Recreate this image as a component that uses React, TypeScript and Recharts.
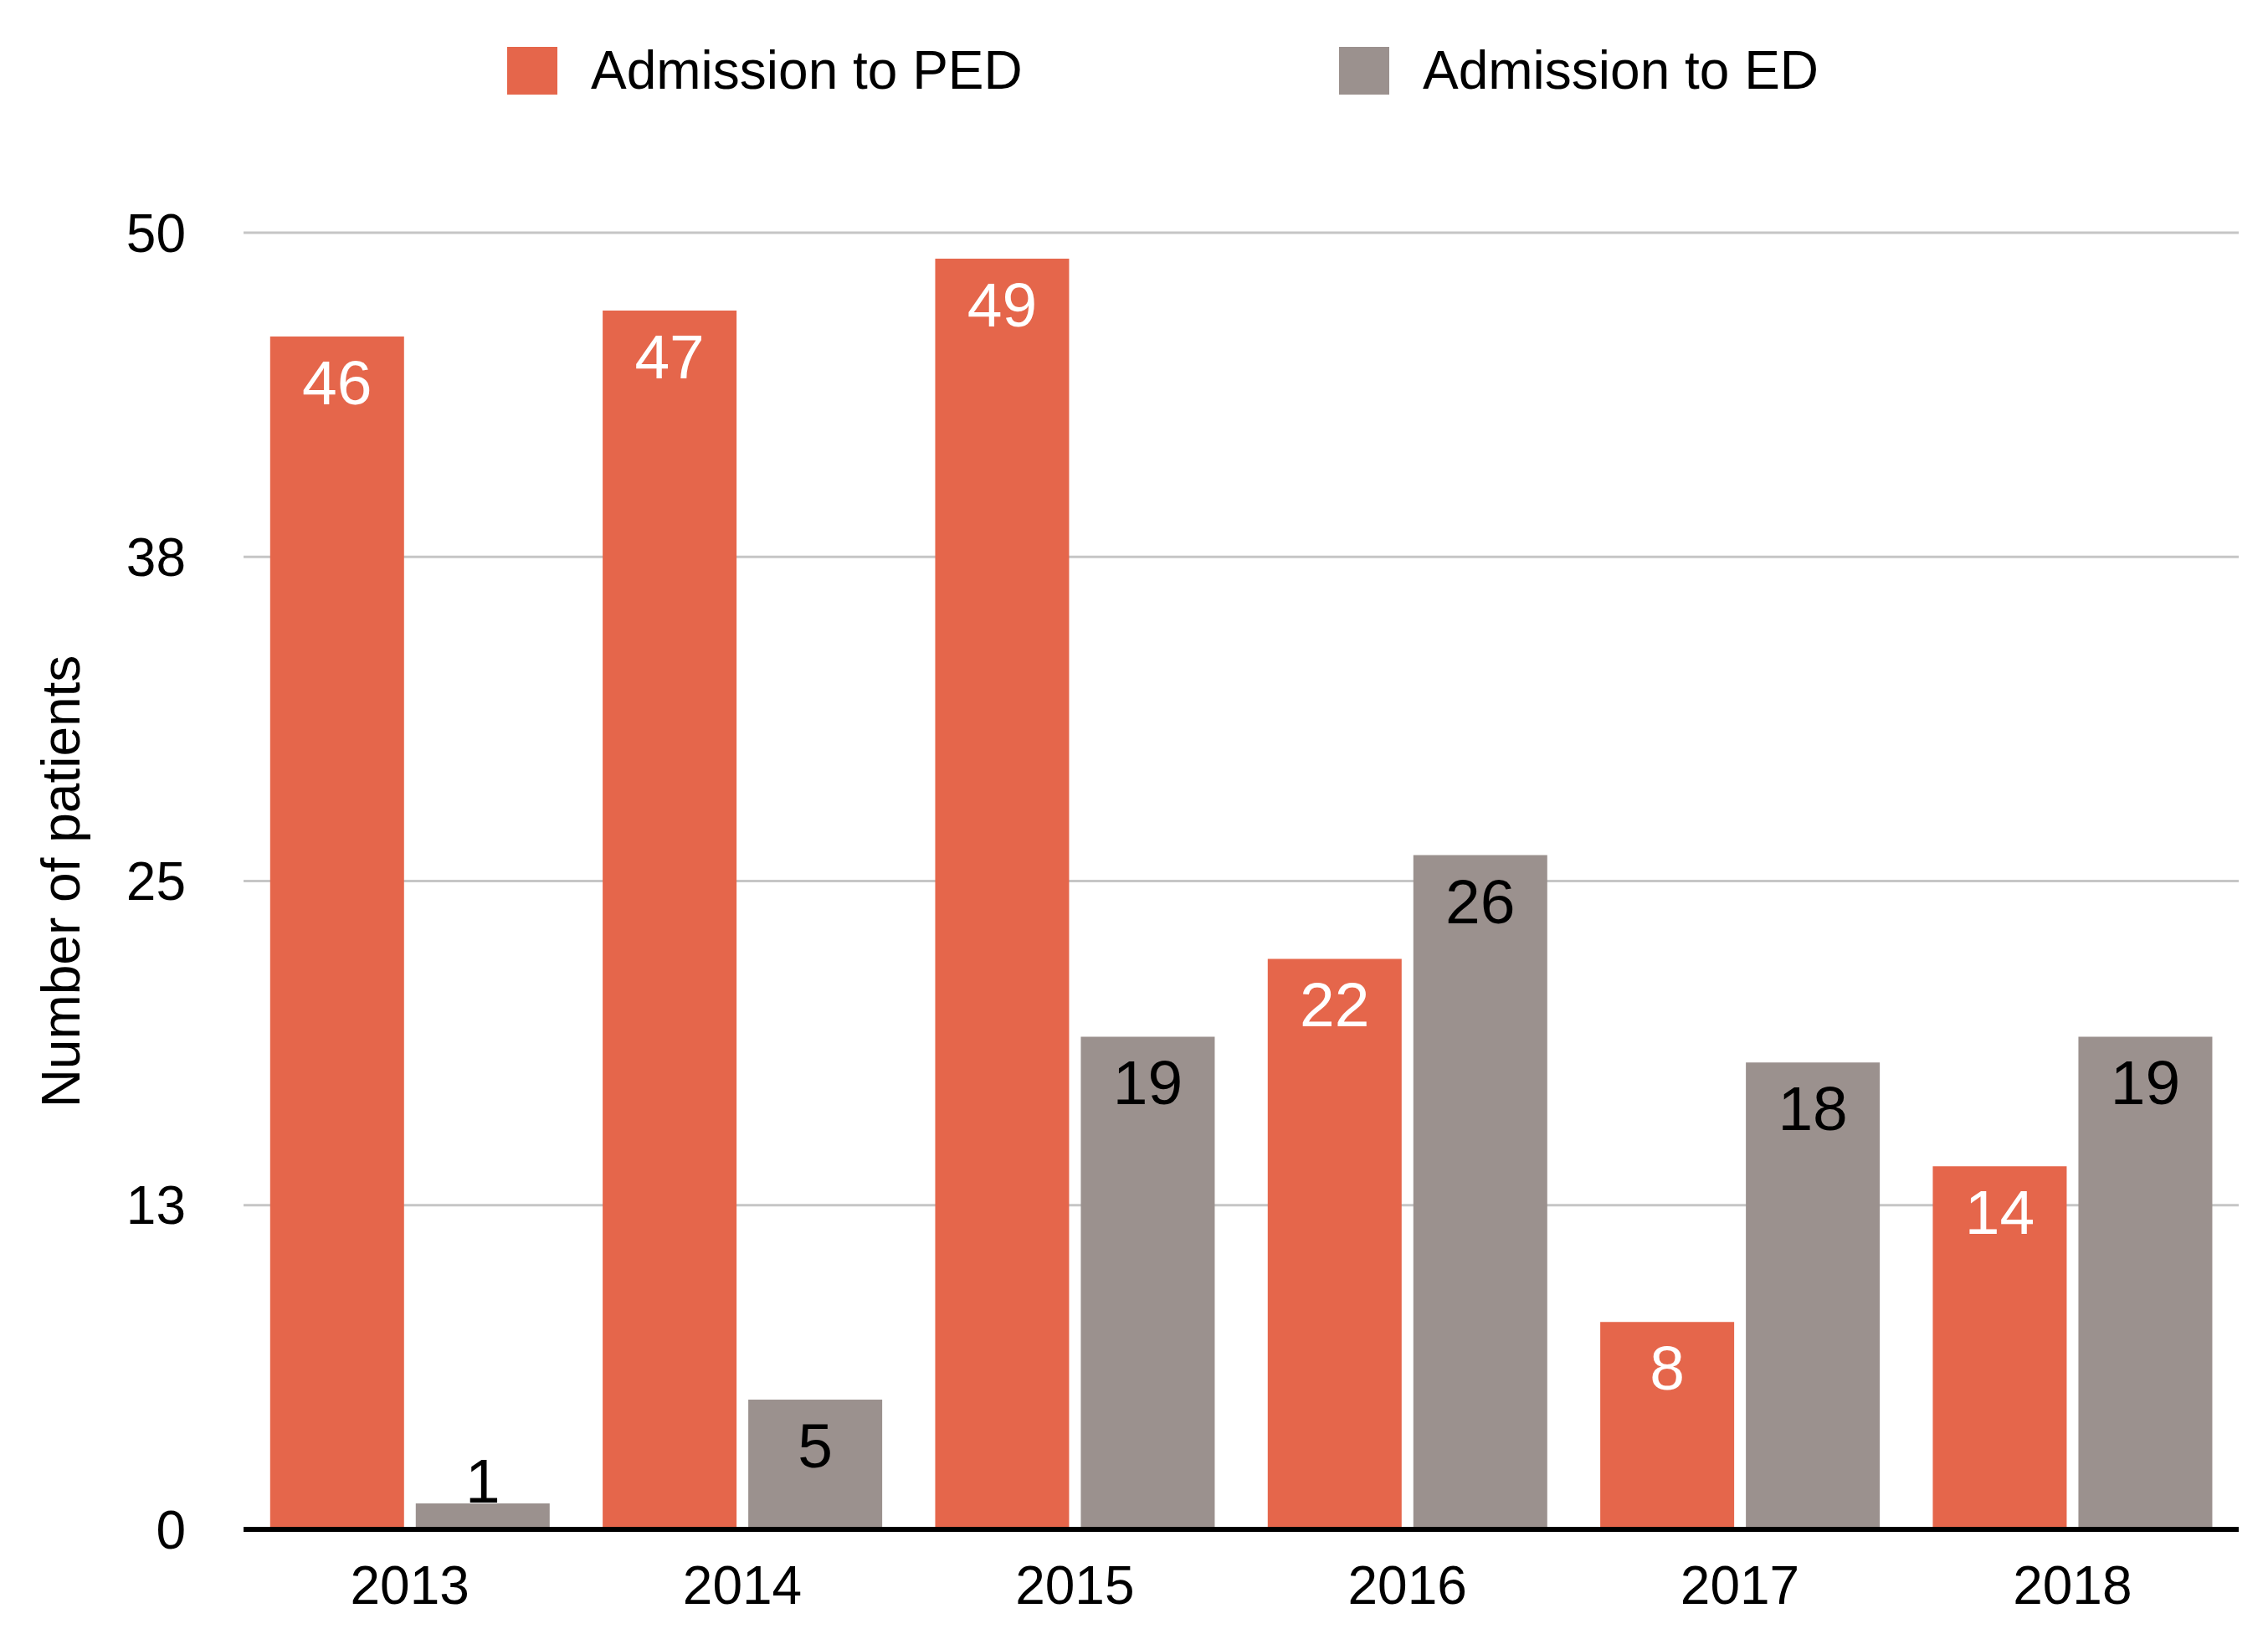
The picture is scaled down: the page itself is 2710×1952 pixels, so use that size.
import React from 'react';
import { BarChart, Bar, XAxis, YAxis, CartesianGrid, Legend, LabelList } from 'recharts';

const years = ['2013', '2014', '2015', '2016', '2017', '2018'];
const pedValues = [46, 47, 49, 22, 8, 14];
const edValues = [1, 5, 19, 26, 18, 19];
const yTicks = [0, 12.5, 25, 37.5, 50];

const PED_COLOR = '#e5664b';
const ED_COLOR = '#9b918e';
const FONT = '"Liberation Sans", Arial, Helvetica, sans-serif';

const data = years.map((year, i) => ({ year, ped: pedValues[i], ed: edValues[i] }));

// label inside the top of the bar, or just above when the bar is too short
const makeLabel = (color: string) => (props: any) => {
  const { x = 0, y = 0, width = 0, height = 0, value } = props;
  const cx = Number(x) + Number(width) / 2;
  const inside = Number(height) > 90;
  const baseline = inside ? Number(y) + 81 : Number(y) - 1;
  return (
    <text x={cx} y={baseline} textAnchor="middle" fontSize={75} fontFamily={FONT} fill={inside ? color : '#000'}>
      {value}
    </text>
  );
};

const legendItems = [
  { label: 'Admission to PED', color: PED_COLOR, left: 606 },
  { label: 'Admission to ED', color: ED_COLOR, left: 1600 },
];

const renderLegend = () => (
  <div style={{ position: 'relative', width: 2710, height: 0 }}>
    {legendItems.map((item) => (
      <div
        key={item.label}
        style={{ position: 'absolute', left: item.left, top: 56, display: 'flex', alignItems: 'center', whiteSpace: 'nowrap' }}
      >
        <div style={{ width: 60, height: 57, background: item.color }} />
        <span style={{ marginLeft: 40, fontSize: 64, fontFamily: FONT, color: '#000', lineHeight: '57px' }}>{item.label}</span>
      </div>
    ))}
  </div>
);

const renderYLabel = () => (
  <text x={95} y={1053} transform="rotate(-90 95 1053)" textAnchor="middle" fontSize={64} fontFamily={FONT} fill="#000">
    Number of patients
  </text>
);

export default function App() {
  return (
    <div style={{ position: 'absolute', left: 0, top: 0, width: 2710, height: 1952, background: '#fff' }}>
      <BarChart
        width={2710}
        height={1952}
        data={data}
        margin={{ top: 278, right: 35, bottom: 25, left: 91 }}
        barCategoryGap="8%"
        barGap={14}
      >
        <CartesianGrid vertical={false} stroke="#c6c6c6" strokeWidth={3} />
        <XAxis
          dataKey="year"
          height={100}
          tickLine={false}
          axisLine={{ stroke: '#000', strokeWidth: 6 }}
          tickMargin={38}
          tick={{ fontSize: 64, fontFamily: FONT, fill: '#000' }}
        />
        <YAxis
          width={200}
          domain={[0, 50]}
          ticks={yTicks}
          interval={0}
          tickFormatter={(v: number) => String(Math.round(v))}
          axisLine={false}
          tickLine={false}
          tickMargin={63}
          tick={{ fontSize: 64, fontFamily: FONT, fill: '#000' }}
          label={renderYLabel}
        />
        <Legend
          verticalAlign="top"
          content={renderLegend}
          wrapperStyle={{ top: 0, left: 0, width: 2710, height: 0, overflow: 'visible' }}
        />
        <Bar dataKey="ped" name="Admission to PED" fill={PED_COLOR} isAnimationActive={false}>
          <LabelList dataKey="ped" content={makeLabel('#fff')} />
        </Bar>
        <Bar dataKey="ed" name="Admission to ED" fill={ED_COLOR} isAnimationActive={false}>
          <LabelList dataKey="ed" content={makeLabel('#000')} />
        </Bar>
      </BarChart>
    </div>
  );
}
